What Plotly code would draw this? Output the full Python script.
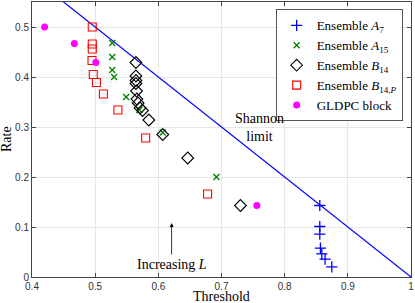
import plotly.graph_objects as go

# Data
a7_thr = [0.8556, 0.8556, 0.8556, 0.8566, 0.8588, 0.864, 0.8746]
a7_rate = [0.143, 0.101, 0.0857, 0.0576, 0.0464, 0.0357, 0.0204]

a15_thr = [0.527, 0.527, 0.527, 0.530, 0.549, 0.570, 0.607, 0.692]
a15_rate = [0.468, 0.440, 0.414, 0.400, 0.360, 0.334, 0.289, 0.200]

b14_thr = [0.5645, 0.5645, 0.5645, 0.5645, 0.5655, 0.566, 0.568, 0.571, 0.575, 0.585, 0.607, 0.6465, 0.730]
b14_rate = [0.429, 0.402, 0.393, 0.387, 0.372, 0.356, 0.348, 0.338, 0.333, 0.314, 0.285, 0.238, 0.143]

b14p_thr = [0.4954, 0.4954, 0.4954, 0.495, 0.497, 0.502, 0.513, 0.536, 0.580, 0.678]
b14p_rate = [0.500, 0.466, 0.456, 0.433, 0.405, 0.389, 0.366, 0.334, 0.278, 0.166]

gldpc_thr = [0.42, 0.467, 0.501, 0.756]
gldpc_rate = [0.500, 0.467, 0.429, 0.143]

shannon_thr = [0.4, 1.0]
shannon_rate = [0.6, 0.0]

xticks = [0.4, 0.5, 0.6, 0.7, 0.8, 0.9, 1.0]
xticklabels = ["0.4", "0.5", "0.6", "0.7", "0.8", "0.9", "1"]
yticks = [0, 0.1, 0.2, 0.3, 0.4, 0.5]
yticklabels = ["0", "0.1", "0.2", "0.3", "0.4", "0.5"]

serif = "Liberation Serif"
fs = 14

fig = go.Figure()
fig.add_trace(go.Scatter(x=shannon_thr, y=shannon_rate, mode="lines",
                         line=dict(color="#0000ff", width=1.2), showlegend=False,
                         hoverinfo="skip"))
fig.add_trace(go.Scatter(x=a7_thr, y=a7_rate, mode="markers", name="Ensemble <i>A</i><sub>7</sub>",
                         marker=dict(symbol="cross-thin-open", size=8, color="#0000ff",
                                     line=dict(color="#0000ff", width=1.3))))
fig.add_trace(go.Scatter(x=a15_thr, y=a15_rate, mode="markers", name="Ensemble <i>A</i><sub>15</sub>",
                         marker=dict(symbol="x-thin-open", size=6, color="#008000",
                                     line=dict(color="#008000", width=1.3))))
fig.add_trace(go.Scatter(x=b14_thr, y=b14_rate, mode="markers", name="Ensemble <i>B</i><sub>14</sub>",
                         marker=dict(symbol="diamond-open", size=9, color="black",
                                     line=dict(color="black", width=1.1))))
fig.add_trace(go.Scatter(x=b14p_thr, y=b14p_rate, mode="markers", name="Ensemble <i>B</i><sub>14,<i>P</i></sub>",
                         marker=dict(symbol="square-open", size=8, color="#ff0000",
                                     line=dict(color="#ff0000", width=1.1))))
fig.add_trace(go.Scatter(x=gldpc_thr, y=gldpc_rate, mode="markers", name="GLDPC block",
                         marker=dict(symbol="circle", size=7, color="#ff00ff")))

fig.add_annotation(x=0.760, y=0.299, text="Shannon<br>limit", showarrow=False,
                   font=dict(family=serif, size=fs, color="black"))
fig.add_annotation(x=0.621, y=0.026, text="Increasing <i>L</i>", showarrow=False,
                   font=dict(family=serif, size=fs, color="black"))
fig.add_annotation(x=0.621, y=0.108, ax=0.621, ay=0.042, xref="x", yref="y",
                   axref="x", ayref="y", text="", showarrow=True,
                   arrowhead=2, arrowsize=1, arrowwidth=0.8, arrowcolor="black")
# Axis titles as paper annotations for exact placement
fig.add_annotation(x=0.5, y=0, xref="paper", yref="paper", yshift=-19,
                   text="Threshold", showarrow=False, yanchor="middle",
                   font=dict(family=serif, size=fs, color="black"))
fig.add_annotation(x=0, y=0.5, xref="paper", yref="paper", xshift=-16,
                   text="Rate", showarrow=False, textangle=-90, xanchor="right",
                   font=dict(family=serif, size=fs, color="black"))

axis_common = dict(showline=True, linecolor="#444", linewidth=1, mirror="allticks",
                   ticks="inside", ticklen=4, tickcolor="#444", automargin=False,
                   showgrid=True, gridcolor="#e6e6e6", gridwidth=1, zeroline=False,
                   tickfont=dict(family="Liberation Sans", size=10, color="#333"))

fig.update_layout(
    width=415, height=303,
    margin=dict(l=32, r=4, t=2, b=26),
    plot_bgcolor="white", paper_bgcolor="white",
    font=dict(family=serif, size=fs, color="black"),
    xaxis=dict(range=[0.4, 1.0], tickvals=xticks, ticktext=xticklabels, **axis_common),
    yaxis=dict(range=[0, 0.55], tickvals=yticks, ticktext=yticklabels, **axis_common),
    legend=dict(x=0.978, y=0.973, xanchor="right", yanchor="top",
                bgcolor="white", bordercolor="#555", borderwidth=1,
                font=dict(family=serif, size=13, color="black"),
                tracegroupgap=0, itemwidth=30),
    showlegend=True,
)

fig.write_html("out.html", config={"displayModeBar": False},
               post_script="document.body.style.margin='0';")
